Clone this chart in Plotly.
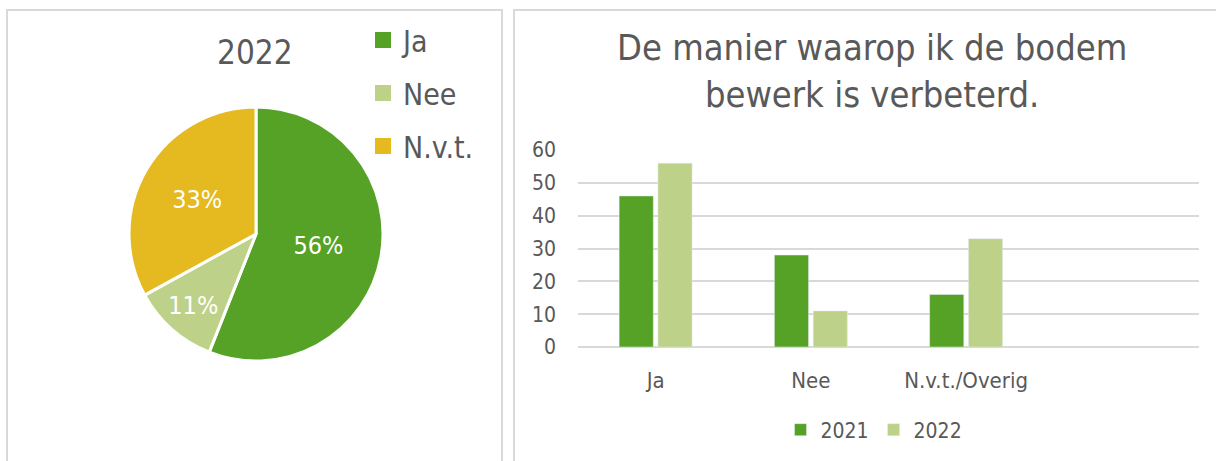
import plotly.graph_objects as go

W, H = 1216, 461

# Data
pie_labels = ["Ja", "Nee", "N.v.t."]
pie_values = [56, 11, 33]
pie_title = "2022"

categories = ["Ja", "Nee", "N.v.t./Overig"]
values_2021 = [46, 28, 16]
values_2022 = [56, 11, 33]
bar_title = "De manier waarop ik de bodem<br>bewerk is verbeterd."

GREEN = "#56A226"
LIGHT = "#BDD288"
GOLD = "#E5B920"
pie_colors = [GREEN, LIGHT, GOLD]
TEXT = "#595959"
GRID = "#D9D9D9"
FONT = "DejaVu Sans Condensed, Liberation Sans Narrow, sans-serif"


def px(x):
    return x / W


def py(y):
    return 1 - y / H


fig = go.Figure()

fig.add_trace(go.Pie(
    labels=pie_labels, values=pie_values, sort=False, direction="clockwise",
    rotation=0,
    marker=dict(colors=pie_colors, line=dict(color="white", width=3)),
    textinfo="percent", textposition="inside", insidetextorientation="horizontal",
    textfont=dict(color="white", size=25, family=FONT),
    domain=dict(x=[px(129), px(383)], y=[py(361), py(107)]),
    showlegend=False,
))

# legend entries for the pie (one group per label to control row spacing)
for lab, col in zip(pie_labels, pie_colors):
    fig.add_trace(go.Scatter(
        x=[None], y=[None], mode="markers", name=lab,
        marker=dict(symbol="square", size=16, color=col),
        legend="legend", legendgroup=lab, showlegend=True, hoverinfo="skip",
    ))

fig.add_trace(go.Bar(name="2021", x=categories, y=values_2021, marker_color=GREEN,
                     legend="legend2"))
fig.add_trace(go.Bar(name="2022", x=categories, y=values_2022, marker_color=LIGHT,
                     legend="legend2"))

shapes = [
    dict(type="rect", xref="paper", yref="paper", x0=px(7), x1=px(502), y0=py(470), y1=py(10),
         line=dict(color=GRID, width=2), fillcolor="rgba(0,0,0,0)", layer="below"),
    dict(type="rect", xref="paper", yref="paper", x0=px(514), x1=px(1230), y0=py(470), y1=py(10),
         line=dict(color=GRID, width=2), fillcolor="rgba(0,0,0,0)", layer="below"),
]

annotations = [
    dict(text=pie_title, x=px(255), y=py(52), xref="paper", yref="paper", showarrow=False,
         font=dict(size=33, color=TEXT, family=FONT), xanchor="center", yanchor="middle"),
    dict(text=bar_title, x=px(872), y=py(71), xref="paper", yref="paper", showarrow=False,
         font=dict(size=36, color=TEXT, family=FONT), xanchor="center", yanchor="middle"),
]

fig.update_layout(
    width=W, height=H, margin=dict(l=0, r=0, t=0, b=0, pad=0, autoexpand=False),
    paper_bgcolor="white", plot_bgcolor="white",
    font=dict(family=FONT, color=TEXT),
    barmode="group", bargap=0.5, bargroupgap=0.12,
    shapes=shapes, annotations=annotations,
    xaxis=dict(domain=[px(578), px(1199)], type="category", range=[-0.5, 3.5],
               showgrid=False, showline=False, ticks="", ticklabelstandoff=18,
               automargin=False,
               tickfont=dict(size=22, color=TEXT, family=FONT), fixedrange=True),
    yaxis=dict(domain=[py(347), py(150)], range=[0, 60], dtick=10,
               showgrid=True, gridcolor=GRID, gridwidth=1.5, zeroline=True,
               zerolinecolor=GRID, zerolinewidth=1.5, showline=False, ticks="",
               ticklabelstandoff=21, automargin=False,
               tickfont=dict(size=21, color=TEXT, family=FONT), fixedrange=True),
    legend=dict(x=px(363), y=py(14), xanchor="left", yanchor="top",
                font=dict(size=30, color=TEXT, family=FONT), bgcolor="rgba(0,0,0,0)",
                itemwidth=30, tracegroupgap=11, traceorder="grouped"),
    legend2=dict(orientation="h", x=px(874), y=py(430), xanchor="center", yanchor="middle",
                 font=dict(size=21, color=TEXT, family=FONT), bgcolor="rgba(0,0,0,0)"),
)

fig.write_html("out.html", config={"displayModeBar": False},
               post_script="document.body.style.margin='0';")
